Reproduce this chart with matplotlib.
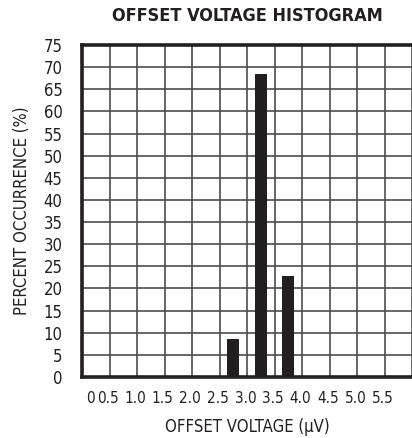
import numpy as np
import matplotlib
matplotlib.use('Agg')
import matplotlib.pyplot as plt
from matplotlib.transforms import blended_transform_factory

plt.rcParams['font.family'] = ['DejaVu Sans']
plt.rcParams['font.stretch'] = 'condensed'

# histogram bins (left edge, V) and percent occurrence
bin_edges = [0.0, 0.5, 1.0, 1.5, 2.0, 2.5, 3.0, 3.5, 4.0, 4.5, 5.0, 5.5]
tick_labels = ['0', '0.5', '1.0', '1.5', '2.0', '2.5', '3.0', '3.5', '4.0', '4.5', '5.0', '5.5']
bar_bins = [2.5, 3.0, 3.5]
bar_pct = [8.6, 68.4, 22.9]

ink = '#231f20'
grid_c = '#4d4d4d'

fig = plt.figure(figsize=(4.12, 4.38), dpi=100)
ax = fig.add_axes([82 / 412, 61 / 438, 330 / 412, 332 / 438])

binw = 0.5
ax.bar(np.array(bar_bins) + binw / 2, bar_pct, width=0.217, color=ink, zorder=3)

ax.set_xlim(0, 330 / 27.7 * binw)
ax.set_ylim(0, 75)

ax.set_xticks(bin_edges + [6.0])
ax.set_yticks(np.arange(0, 76, 5))
ax.grid(True, color=grid_c, lw=1.2, zorder=1)
ax.set_axisbelow(True)
ax.tick_params(length=0, labelsize=12, colors=ink)
ax.tick_params(axis='y', pad=14)
ax.set_xticklabels([])

# tick labels sit just left of each grid line, the "0" sits inside the first bin
trans = blended_transform_factory(ax.transData, ax.transAxes)
for e, lab in zip(bin_edges, tick_labels):
	xpos = 0.15 if lab == '0' else e - 0.03
	ax.text(xpos, -0.065, lab, transform=trans, ha='center', va='center',
	        fontsize=11, color=ink)

for s in ['left', 'bottom', 'top']:
	ax.spines[s].set_linewidth(2.6)
	ax.spines[s].set_color(ink)
ax.spines['right'].set_visible(False)

ax.set_xlabel('OFFSET VOLTAGE (µV)', fontsize=12, color=ink, labelpad=26)
ax.set_ylabel('PERCENT OCCURRENCE (%)', fontsize=12, color=ink, labelpad=9)
ax.set_title('OFFSET VOLTAGE HISTOGRAM', fontsize=13, fontweight='bold',
             color=ink, pad=17)

fig.savefig('out.png', dpi=100)
